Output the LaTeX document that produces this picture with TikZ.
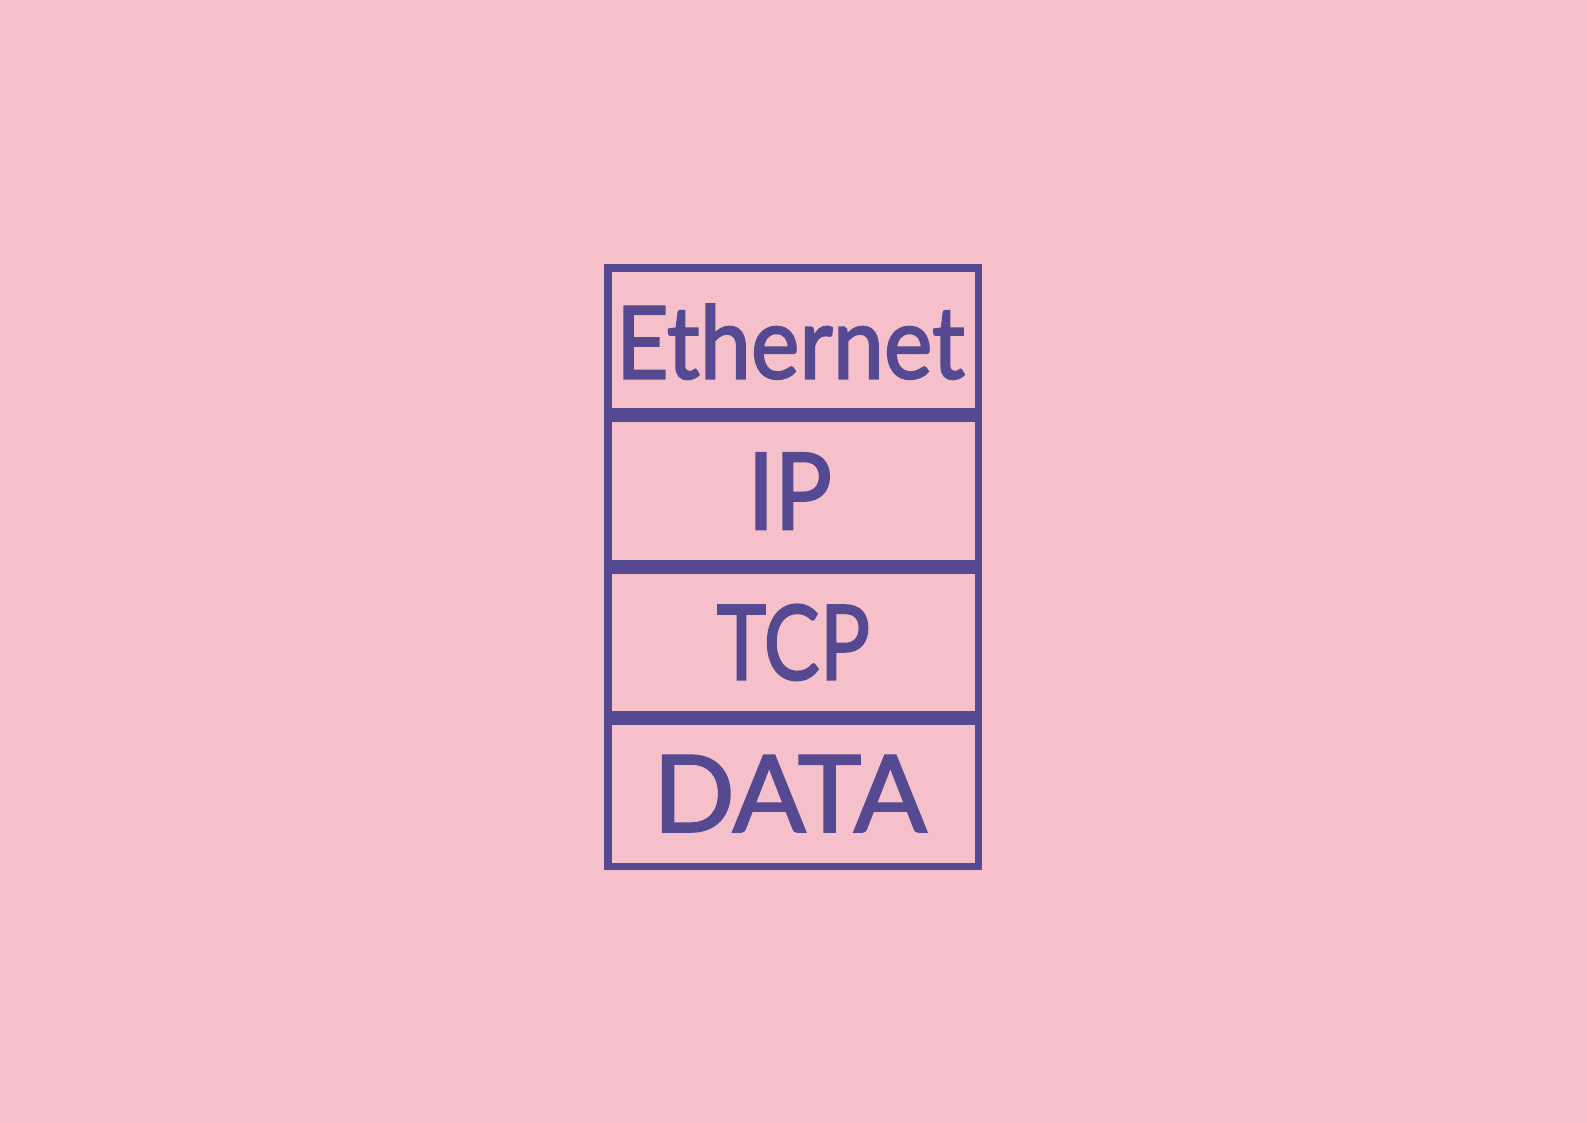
\documentclass[tikz,border=0pt]{standalone}
\usepackage{fontspec}
\setmainfont{Lato}[FakeBold=2]
\definecolor{bg}{RGB}{245,192,202}
\definecolor{pur}{RGB}{85,74,146}
\begin{document}
\begin{tikzpicture}[x=1pt,y=-1pt,
  layer/.style={draw=pur, line width=7.4pt, rectangle, inner sep=0pt,
    minimum width=370.6pt},
  lbl/.style={inner sep=0pt, text depth=0pt, text=pur}]
\fill[bg] (0,0) rectangle (1587,1123);
\useasboundingbox (0,0) rectangle (1587,1123);
\node[layer, minimum height=143.3pt] (eth) at (793.3,339.65) {};
\node[layer, minimum height=144.6pt] (ip) at (793.3,491) {};
\node[layer, minimum height=143.6pt] (tcp) at (793.3,642.5) {};
\node[layer, minimum height=144.6pt] (data) at (793.3,794) {};
\node[lbl, text height=72pt, font=\fontsize{100.8}{100.8}\selectfont]
  (ethl) at ([xshift=-3pt,yshift=-2.85pt]eth.center) {\scalebox{0.91}[1]{Ethernet}};
\node[lbl, text height=76pt, font=\fontsize{106.4}{106.4}\selectfont]
  (ipl) at ([xshift=-3.5pt,yshift=-0.3pt]ip.center) {\scalebox{0.9}[1]{IP}};
\node[lbl, text height=74pt, font=\fontsize{103.6}{103.6}\selectfont]
  (tcpl) at (tcp.center) {\scalebox{0.81}[1]{TCP}};
\node[lbl, text height=76pt, font=\fontsize{106.4}{106.4}\selectfont]
  (datal) at ([xshift=-3.5pt,yshift=0.3pt]data.center) {\scalebox{1.01}[1]{DATA}};
\end{tikzpicture}
\end{document}
